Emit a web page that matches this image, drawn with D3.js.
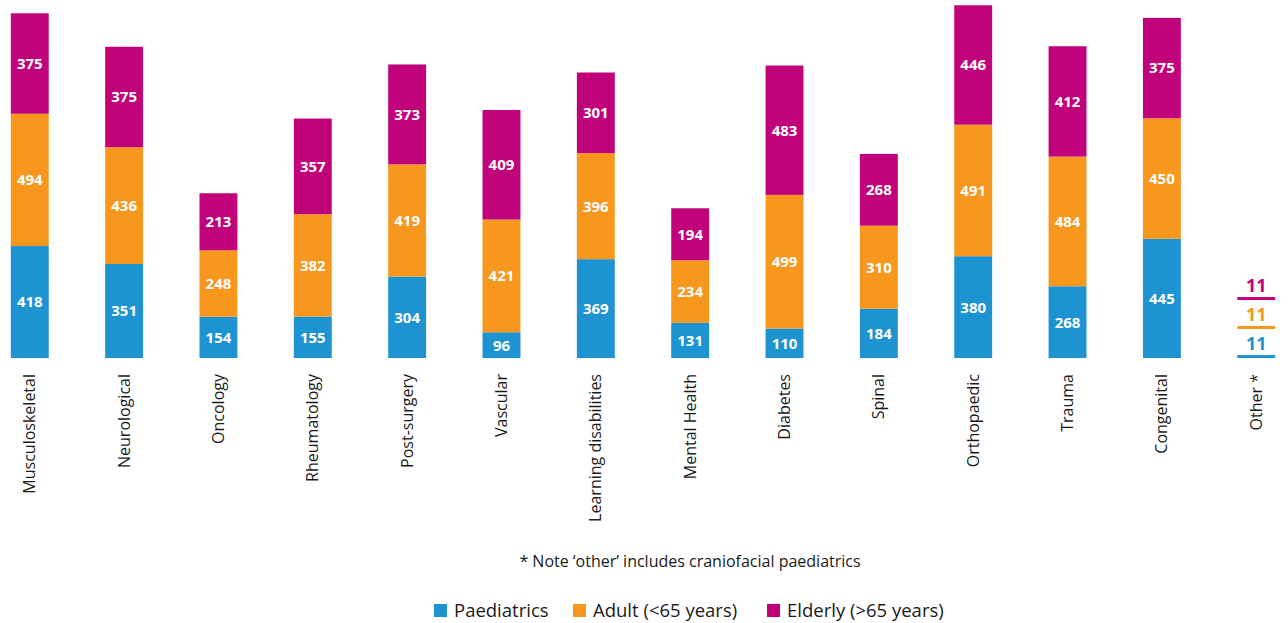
<!DOCTYPE html>
<html>
<head>
<meta charset="utf-8">
<script src="https://cdn.jsdelivr.net/npm/d3@7"></script>
<style>
  body { margin: 0; background: #fff; }
  svg text { font-family: "Open Sans", "Noto Sans", sans-serif; }
</style>
</head>
<body>
<div id="chart"></div>
<script>
var svgWidth = 1288;
var svgHeight = 623;

// Data
var categories = ["Musculoskeletal", "Neurological", "Oncology", "Rheumatology", "Post-surgery",
    "Vascular", "Learning disabilities", "Mental Health", "Diabetes", "Spinal",
    "Orthopaedic", "Trauma", "Congenital", "Other *"];
var paediatrics = [418, 351, 154, 155, 304, 96, 369, 131, 110, 184, 380, 268, 445, 11];
var adult       = [494, 436, 248, 382, 419, 421, 396, 234, 499, 310, 491, 484, 450, 11];
var elderly     = [375, 375, 213, 357, 373, 409, 301, 194, 483, 268, 446, 412, 375, 11];
var seriesNames = ["Paediatrics", "Adult (<65 years)", "Elderly (>65 years)"];
var seriesKeys = ["paediatrics", "adult", "elderly"];
var colors = ["#1e93d2", "#f7971e", "#c0037a"];
var noteText = "* Note \u2018other\u2019 includes craniofacial paediatrics";

var svg = d3.select("#chart").append("svg")
    .attr("width", svgWidth)
    .attr("height", svgHeight);

var rows = categories.map(function (c, i) {
    return { cat: c, paediatrics: paediatrics[i], adult: adult[i], elderly: elderly[i] };
});

var xScale = d3.scaleBand()
    .domain(categories)
    .range([-17.5, 1303.5])
    .paddingInner(0.598)
    .paddingOuter(0.3);

var yScale = d3.scaleLinear()
    .domain([0, 1287])
    .range([358, 13.3]);

var stack = d3.stack().keys(seriesKeys);
var stacked = stack(rows.slice(0, 13));

// stacked bars (all but "Other")
var layers = svg.selectAll(".layer")
    .data(stacked)
    .enter()
    .append("g")
    .attr("class", "layer")
    .attr("fill", (d, i) => colors[i]);

layers.selectAll("rect")
    .data(d => d)
    .enter()
    .append("rect")
    .attr("x", d => xScale(d.data.cat))
    .attr("y", d => yScale(d[1]))
    .attr("width", xScale.bandwidth())
    .attr("height", d => yScale(d[0]) - yScale(d[1]));

layers.selectAll("text")
    .data(d => d)
    .enter()
    .append("text")
    .attr("x", d => xScale(d.data.cat) + xScale.bandwidth() / 2)
    .attr("y", d => (yScale(d[0]) + yScale(d[1])) / 2)
    .attr("dy", "0.36em")
    .attr("text-anchor", "middle")
    .attr("fill", "#fff")
    .style("font-size", "15px")
    .style("font-weight", "bold")
    .text(function (d) { return d[1] - d[0]; });

// "Other" is drawn as three separated thin bars with coloured labels
var other = rows[13];
var otherGap = 29;
var otherGroup = svg.append("g");
seriesKeys.forEach(function (key, i) {
    var bottom = yScale(0) - i * otherGap;
    var h = yScale(0) - yScale(other[key]);
    otherGroup.append("rect")
        .attr("x", xScale(other.cat))
        .attr("y", bottom - h)
        .attr("width", xScale.bandwidth())
        .attr("height", h)
        .attr("fill", colors[i]);
    otherGroup.append("text")
        .attr("x", xScale(other.cat) + xScale.bandwidth() / 2)
        .attr("y", bottom - h - 5)
        .attr("text-anchor", "middle")
        .attr("fill", colors[i])
        .style("font-size", "18px")
        .style("font-weight", "bold")
        .text(other[key]);
});

// category labels, rotated
svg.selectAll(".catLabel")
    .data(categories)
    .enter()
    .append("text")
    .attr("class", "catLabel")
    .attr("transform", d => `translate(${xScale(d) + xScale.bandwidth() / 2}, 374) rotate(-90)`)
    .attr("dy", "0.35em")
    .attr("text-anchor", "end")
    .attr("fill", "#1a1a1a")
    .style("font-size", "16px")
    .text(d => d);

// note
svg.append("text")
    .attr("x", 690)
    .attr("y", 567)
    .attr("text-anchor", "middle")
    .attr("fill", "#1a1a1a")
    .style("font-size", "16px")
    .text(noteText);

// legend
var legendX = [434, 573, 767];
var legend = svg.selectAll(".legend")
    .data(seriesNames)
    .enter()
    .append("g")
    .attr("class", "legend")
    .attr("transform", (d, i) => `translate(${legendX[i]}, 604)`);

legend.append("rect")
    .attr("width", 13)
    .attr("height", 13)
    .attr("fill", (d, i) => colors[i]);

legend.append("text")
    .attr("x", 20)
    .attr("y", 13)
    .attr("fill", "#1a1a1a")
    .style("font-size", "18.5px")
    .text(d => d);
</script>
</body>
</html>
